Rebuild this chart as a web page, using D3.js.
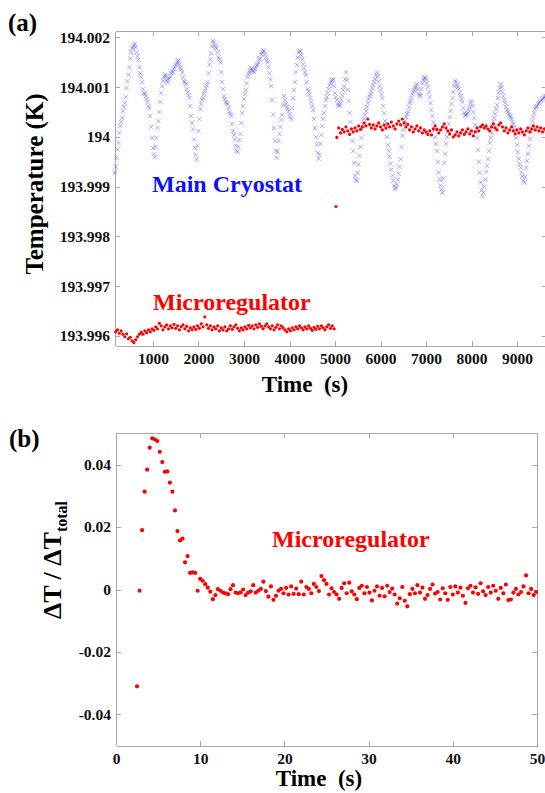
<!DOCTYPE html>
<head>
  <meta charset="utf-8">
  <script src="https://d3js.org/d3.v7.min.js"></script>
  <style>
    body { margin: 0; background: #fff; }
    text { font-family: "Liberation Serif", "Times New Roman", serif; font-weight: bold; }
    .axis path, .axis line { stroke: #a8a8a8; stroke-width: 1; shape-rendering: crispEdges; }
    .axis text { font-size: 15.5px; fill: #111; font-family: "Liberation Serif", serif; font-weight: bold; }
  </style>
</head>
<body>
<script>
  // ---- panel (a): temperature vs time ----
  // main cryostat, offset from 194 K in mK; two interleaved sample sets, 40 s apart each
  var cryoStart = 160, cryoStep = 40;
  var cryostatMK = [-0.71,-0.42,-0.12,0.22,0.38,0.60,0.80,1.12,1.40,1.70,1.80,1.87,1.70,1.55,1.28,1.10,0.88,0.82,0.70,0.58,0.20,-0.22,
    -0.41,-0.02,0.32,0.70,1.02,1.20,1.22,1.10,1.18,1.28,1.30,1.40,1.48,1.53,1.40,1.30,1.12,1.06,0.90,0.78,0.42,0.15,-0.22,-0.45,0.12,
    0.56,0.74,0.86,0.98,1.10,1.45,1.68,1.93,1.84,1.78,1.60,1.50,1.10,0.82,0.70,0.66,0.50,0.42,0.12,-0.05,-0.28,-0.20,0.06,0.48,0.76,
    0.94,1.20,1.30,1.38,1.32,1.36,1.44,1.50,1.58,1.70,1.72,1.60,1.50,1.28,1.02,0.45,-0.08,-0.42,-0.08,0.20,0.44,0.82,0.66,0.56,0.46,
    0.36,0.78,1.10,1.45,1.70,1.72,1.56,1.38,1.24,0.96,0.86,0.70,0.54,0.18,-0.15,-0.44,-0.14,0.22,0.48,0.74,0.88,1.03,1.12,1.16,0.88,
    0.74,0.62,0.68,0.84,1.02,1.30,0.95,0.48,0.14,-0.28,-0.78,-0.88,-0.55,-0.20,0.16,0.36,0.52,0.68,0.82,0.92,1.04,1.16,1.30,1.12,0.94,
    0.78,0.48,0.18,-0.16,-0.40,-0.66,-0.88,-1.05,-0.96,-0.74,-0.45,0.02,0.24,0.40,0.50,0.68,0.78,0.90,0.98,1.06,0.86,0.84,1.08,1.18,1.16,
    1.00,0.80,0.54,0.29,0.00,-0.28,-0.72,-0.98,-1.12,-0.52,-0.14,0.12,0.40,0.66,0.90,1.13,1.04,0.96,0.82,0.70,0.48,0.44,0.48,0.60,0.72,
    0.50,0.24,-0.02,-0.50,-0.92,-1.19,-1.00,-0.70,-0.45,-0.12,0.08,0.30,0.46,0.64,0.90,1.06,0.90,0.74,0.60,0.50,0.42,0.36,0.26,0.14,-0.16,
    -0.44,-0.62,-0.80,-0.92,-0.62,-0.34,-0.04,0.22,0.40,0.56,0.62,0.68,0.72,0.76,0.80,0.82];
  var cryoStartB = 180;
  var cryostatMKB = [-0.60,-0.25,0.08,0.30,0.52,0.68,0.98,1.25,1.58,1.78,1.84,1.80,1.62,1.40,1.20,0.96,0.86,0.76,0.62,0.42,-0.02,-0.35,
    -0.20,0.18,0.50,0.88,1.12,1.24,1.14,1.16,1.22,1.32,1.36,1.44,1.52,1.46,1.36,1.20,1.10,0.96,0.84,0.62,0.28,-0.05,-0.36,-0.18,0.36,
    0.66,0.78,0.92,1.04,1.28,1.56,1.82,1.90,1.80,1.70,1.56,1.30,0.96,0.76,0.68,0.58,0.46,0.26,0.04,-0.18,-0.30,-0.06,0.28,0.62,0.86,
    1.08,1.26,1.34,1.36,1.30,1.40,1.46,1.56,1.66,1.74,1.66,1.54,1.40,1.16,0.74,0.18,-0.28,-0.30,0.06,0.34,0.64,0.74,0.60,0.52,0.40,
    0.58,0.94,1.30,1.60,1.74,1.64,1.46,1.30,1.10,0.92,0.78,0.62,0.36,0.00,-0.32,-0.36,0.04,0.36,0.62,0.80,0.96,1.08,1.14,1.02,0.80,
    0.66,0.64,0.76,0.94,1.16,1.14,0.72,0.30,-0.08,-0.52,-0.86,-0.72,-0.38,-0.02,0.26,0.44,0.60,0.76,0.86,0.98,1.10,1.24,1.22,1.02,0.86,
    0.62,0.32,0.00,-0.28,-0.54,-0.78,-0.98,-1.02,-0.86,-0.60,-0.20,0.14,0.32,0.46,0.60,0.72,0.86,0.94,1.02,0.96,0.82,0.96,1.14,1.20,1.08,
    0.90,0.68,0.42,0.14,-0.14,-0.50,-0.86,-1.06,-0.84,-0.34,0.00,0.26,0.52,0.78,1.02,1.10,1.00,0.88,0.76,0.58,0.44,0.46,0.54,0.68,0.62,
    0.38,0.10,-0.26,-0.72,-1.08,-1.12,-0.86,-0.58,-0.28,-0.02,0.20,0.38,0.56,0.78,0.98,1.00,0.82,0.68,0.54,0.46,0.40,0.30,0.20,-0.02,-0.30,
    -0.54,-0.72,-0.88,-0.80,-0.48,-0.18,0.10,0.32,0.48,0.60,0.66,0.70,0.74,0.78,0.82];

  // microregulator, before and after the set-point step
  var microStep = 40;
  var micro1Start = 180;
  var micro1MK = [-3.92,-3.88,-3.95,-3.90,-3.97,-4.02,-3.96,-4.06,-4.03,-4.10,-4.14,-4.08,-4.02,-3.97,-3.93,-3.97,-3.90,-3.94,-3.88,-3.92,
    -3.86,-3.89,-3.82,-3.86,-3.75,-3.80,-3.88,-3.82,-3.78,-3.86,-3.80,-3.84,-3.77,-3.85,-3.80,-3.88,-3.82,-3.78,-3.86,-3.81,
    -3.90,-3.84,-3.88,-3.82,-3.87,-3.80,-3.85,-3.76,-3.82,-3.62,-3.78,-3.85,-3.80,-3.88,-3.82,-3.86,-3.80,-3.90,-3.84,-3.88,
    -3.82,-3.90,-3.86,-3.80,-3.87,-3.82,-3.78,-3.85,-3.90,-3.84,-3.88,-3.82,-3.86,-3.79,-3.84,-3.80,-3.86,-3.78,-3.83,-3.76,
    -3.81,-3.86,-3.80,-3.76,-3.82,-3.86,-3.80,-3.88,-3.83,-3.78,-3.86,-3.80,-3.84,-3.88,-3.92,-3.86,-3.90,-3.84,-3.88,-3.82,
    -3.86,-3.80,-3.84,-3.88,-3.82,-3.86,-3.80,-3.85,-3.89,-3.83,-3.87,-3.81,-3.86,-3.80,-3.84,-3.88,-3.82,-3.78,-3.85,-3.80,-3.86];
  var jumpTime = [5020];
  var jumpMK = [-1.40];
  var micro2Start = 5040;
  var micro2MK = [-0.01,0.18,0.08,0.15,0.10,0.20,0.12,0.05,0.16,0.10,0.18,0.12,0.22,0.15,0.20,0.28,0.22,0.36,0.25,0.18,
    0.24,0.16,0.22,0.28,0.20,0.14,0.24,0.18,0.26,0.20,0.30,0.22,0.16,0.26,0.32,0.24,0.36,0.28,0.20,0.25,
    0.14,0.20,0.10,0.16,0.22,0.12,0.18,0.08,0.14,0.10,0.05,0.12,0.04,0.16,0.22,0.15,0.08,0.14,0.20,0.26,
    0.18,0.12,0.06,0.14,0.00,0.04,0.10,0.02,0.08,0.14,0.05,0.10,0.16,0.06,0.12,0.02,0.10,0.18,0.12,0.20,
    0.24,0.18,0.22,0.16,0.12,0.20,0.26,0.18,0.14,0.24,0.28,0.20,0.12,0.18,0.08,0.14,0.20,0.12,0.06,0.14,
    0.08,0.16,0.10,0.04,0.12,0.18,0.10,0.16,0.22,0.14,0.20,0.12,0.18,0.10,0.16,0.12];

  var yTicksA = [193.996, 193.997, 193.998, 193.999, 194, 194.001, 194.002];
  var yLabelsA = ["193.996", "193.997", "193.998", "193.999", "194", "194.001", "194.002"];
  var xTicksA = [1000, 2000, 3000, 4000, 5000, 6000, 7000, 8000, 9000];

  // ---- panel (b): normalised step response ----
  var respStart = 2.5, respStep = 0.3;
  var response = [-0.0310,-0.0004,0.0190,0.0313,0.0384,0.0454,0.0484,0.0481,0.0475,0.0441,0.0408,0.0377,0.0378,0.0342,0.0313,
    0.0253,0.0187,0.0157,0.0163,0.0087,0.0107,0.0053,0.0055,0.0053,-0.0004,0.0034,0.0028,0.0017,0.0006,-0.0007,-0.0031,-0.0018,
    0.0001,-0.0004,-0.0010,-0.0012,-0.0015,0.0001,0.0014,-0.0010,-0.0012,-0.0009,0.0000,-0.0018,-0.0010,-0.0006,0.0014,-0.0010,
    -0.0004,0.0002,0.0025,-0.0005,-0.0023,0.0010,-0.0033,-0.0020,-0.0004,
    0.0002,-0.0012,0.0005,-0.0016,0.0010,-0.0014,0.0003,-0.0015,0.0025,-0.0016,0.0008,0.0002,-0.0012,0.0018,0.0008,-0.0005,
    0.0043,0.0030,0.0018,-0.0016,0.0004,-0.0008,-0.0016,-0.0030,0.0005,0.0020,-0.0012,0.0022,-0.0006,-0.0016,-0.0031,0.0005,
    0.0012,-0.0012,0.0008,-0.0010,-0.0035,-0.0004,0.0010,-0.0020,0.0005,-0.0022,0.0012,-0.0008,0.0003,-0.0016,-0.0045,-0.0028,
    0.0008,-0.0036,-0.0054,-0.0015,0.0002,-0.0012,0.0014,-0.0010,0.0006,-0.0030,-0.0018,0.0002,0.0016,-0.0013,-0.0008,-0.0032,
    0.0004,-0.0012,-0.0033,0.0008,-0.0016,0.0010,-0.0010,0.0006,-0.0020,-0.0043,0.0004,0.0012,-0.0010,0.0007,-0.0014,0.0020,
    -0.0006,-0.0018,0.0008,-0.0010,0.0012,-0.0004,-0.0030,0.0005,-0.0012,0.0016,-0.0034,-0.0032,-0.0010,0.0002,-0.0016,-0.0008,
    0.0010,0.0045,-0.0012,0.0002,-0.0018,-0.0008];

  var yTicksB = [-0.04, -0.02, 0, 0.02, 0.04];
  var yLabelsB = ["-0.04", "-0.02", "0", "0.02", "0.04"];
  var xTicksB = [0, 10, 20, 30, 40, 50];

  var width = 545, height = 793;
  var svg = d3.select("body").append("svg")
      .attr("width", width)
      .attr("height", height);

  function toPoints(start, step, vals, conv) {
    return vals.map(function (v, i) { return {t: start + i * step, v: conv(v)}; });
  }
  function mk(v) { return 194 + v / 1000; }

  var cryo = toPoints(cryoStart, cryoStep, cryostatMK, mk)
    .concat(toPoints(cryoStartB, cryoStep, cryostatMKB, mk));
  var micro = toPoints(micro1Start, microStep, micro1MK, mk)
    .concat(jumpTime.map(function (t, i) { return {t: t, v: mk(jumpMK[i])}; }))
    .concat(toPoints(micro2Start, microStep, micro2MK, mk));
  var resp = toPoints(respStart, respStep, response, function (v) { return v; });

  // frame with inward ticks on all four sides
  function frame(x, y, xt, xl, yt, yl) {
    var r = x.range(), b = y.range();
    svg.append("g").attr("class", "axis")
      .attr("transform", "translate(0," + b[0] + ")")
      .call(d3.axisBottom(x).tickValues(xt).tickSizeInner(-5).tickSizeOuter(0).tickPadding(7)
        .tickFormat(function (d, i) { return xl[i]; }));
    svg.append("g").attr("class", "axis")
      .attr("transform", "translate(0," + b[1] + ")")
      .call(d3.axisTop(x).tickValues(xt).tickSizeInner(-5).tickSizeOuter(0).tickFormat(""));
    svg.append("g").attr("class", "axis")
      .attr("transform", "translate(" + r[0] + ",0)")
      .call(d3.axisLeft(y).tickValues(yt).tickSizeInner(-5).tickSizeOuter(0).tickPadding(5)
        .tickFormat(function (d, i) { return yl[i]; }));
    svg.append("g").attr("class", "axis")
      .attr("transform", "translate(" + r[1] + ",0)")
      .call(d3.axisRight(y).tickValues(yt).tickSizeInner(-5).tickSizeOuter(0).tickFormat(""));
  }

  // panel (a)
  var xA = d3.scaleLinear().domain([165, 9650]).range([115, 546.6]);
  var yA = d3.scaleLinear().domain([193.9958, 194.00213]).range([345.7, 31]);
  frame(xA, yA, xTicksA, xTicksA.map(String), yTicksA, yLabelsA);

  svg.append("g").selectAll("path").data(cryo).enter().append("path")
    .attr("d", "M-2.2,-2.2L2.2,2.2M-2.2,2.2L2.2,-2.2")
    .attr("transform", function (d) { return "translate(" + xA(d.t) + "," + yA(d.v) + ")"; })
    .attr("stroke", "#5a5aff").attr("stroke-opacity", 0.5).attr("stroke-width", 1).attr("fill", "none");

  svg.append("g").selectAll("circle").data(micro).enter().append("circle")
    .attr("cx", function (d) { return xA(d.t); })
    .attr("cy", function (d) { return yA(d.v); })
    .attr("r", 1.6).attr("fill", "#ff0000");

  svg.append("text").attr("x", 8).attr("y", 31).style("font-size", "25px").text("(a)");
  svg.append("text").attr("x", 152).attr("y", 191.5).style("font-size", "24px").attr("fill", "#1010ff").text("Main Cryostat");
  svg.append("text").attr("x", 153).attr("y", 310).style("font-size", "24px").attr("fill", "#ff0000").text("Microregulator");
  svg.append("text").attr("transform", "translate(43,184) rotate(-90)").attr("text-anchor", "middle")
    .style("font-size", "25px").text("Temperature (K)");
  svg.append("text").attr("x", 305).attr("y", 392).attr("text-anchor", "middle")
    .style("font-size", "23px").style("white-space", "pre").text("Time  (s)");

  // panel (b)
  var xB = d3.scaleLinear().domain([0, 50]).range([116, 537]);
  var yB = d3.scaleLinear().domain([-0.05, 0.05]).range([745.7, 433.3]);
  frame(xB, yB, xTicksB, xTicksB.map(String), yTicksB, yLabelsB);

  svg.append("g").selectAll("circle").data(resp).enter().append("circle")
    .attr("cx", function (d) { return xB(d.t); })
    .attr("cy", function (d) { return yB(d.v); })
    .attr("r", 2.1).attr("fill", "#ff0000");

  svg.append("text").attr("x", 9).attr("y", 447).style("font-size", "25px").text("(b)");
  svg.append("text").attr("x", 272).attr("y", 546.5).style("font-size", "24px").attr("fill", "#ff0000").text("Microregulator");
  var lab = svg.append("text").attr("transform", "translate(61,560) rotate(-90)").attr("text-anchor", "middle")
    .style("font-size", "26px").style("white-space", "pre");
  lab.append("tspan").text("\u0394T / \u0394T");
  lab.append("tspan").attr("dy", 6).style("font-size", "16px").text("total");
  svg.append("text").attr("x", 319).attr("y", 786).attr("text-anchor", "middle")
    .style("font-size", "23px").style("white-space", "pre").text("Time  (s)");
</script>
</body>
